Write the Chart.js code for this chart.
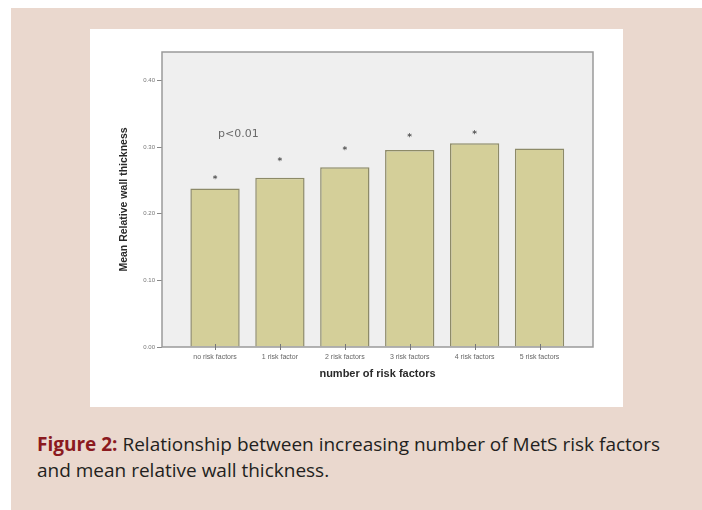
<!DOCTYPE html>
<html><head><meta charset="utf-8">
<script src="https://cdn.jsdelivr.net/npm/chart.js@4/dist/chart.umd.min.js"></script>
<style>
html,body{margin:0;padding:0;background:#fff;width:702px;height:510px;overflow:hidden;}
#pink{position:absolute;left:11px;top:8px;width:691px;height:502px;background:#ead8ce;}
#card{position:absolute;left:90px;top:29px;width:533px;height:378px;background:#fff;}
#cap{position:absolute;left:37px;top:431px;width:665px;font-family:"Open Sans",sans-serif;font-size:19px;line-height:26px;color:#231f20;white-space:nowrap;letter-spacing:0px;}
#cap b{color:#8b1a1f;}
</style></head>
<body>
<div id="pink"></div>
<div id="card"><canvas id="c" width="533" height="378"></canvas></div>
<div id="cap"><b>Figure 2:</b> Relationship between increasing number of MetS risk factors<br>and mean relative wall thickness.</div>
<script>
const categories = ["no risk factors","1 risk factor","2 risk factors","3 risk factors","4 risk factors","5 risk factors"];
const meanRWT = [0.238, 0.254, 0.270, 0.296, 0.306, 0.298];
const asteriskValues = [0.254, 0.281, 0.298, 0.317, 0.322, null];
const yTicks = [0.00, 0.10, 0.20, 0.30, 0.40];
const annotationText = "p<0.01";
const annotationPos = {x: 0.36, y: 0.320};

const deco = {
  id:'deco',
  beforeDatasetsDraw(chart){
    const {ctx, chartArea:a} = chart;
    ctx.save();
    ctx.fillStyle = '#efefef';
    ctx.fillRect(a.left, a.top, a.right-a.left, a.bottom-a.top);
    ctx.restore();
  },
  afterDatasetsDraw(chart){
    const {ctx, chartArea:a, scales:{x,y}} = chart;
    ctx.save();
    ctx.strokeStyle = '#9a9a9a';
    ctx.lineWidth = 1.5;
    ctx.strokeRect(a.left, a.top, a.right-a.left, a.bottom-a.top);
    ctx.strokeStyle = '#777';
    ctx.lineWidth = 1;
    categories.forEach((c,i)=>{
      const px = Math.round(x.getPixelForValue(i))+0.5;
      ctx.beginPath(); ctx.moveTo(px, a.bottom-3); ctx.lineTo(px, a.bottom+3); ctx.stroke();
    });
    ctx.fillStyle = '#555';
    ctx.font = 'bold 9px "DejaVu Sans", sans-serif';
    ctx.textAlign = 'center';
    ctx.textBaseline = 'middle';
    asteriskValues.forEach((v,i)=>{
      if(v==null) return;
      ctx.fillText('*', x.getPixelForValue(i), y.getPixelForValue(v)+2);
    });
    ctx.fillStyle = '#6a6a6a';
    ctx.font = '11px "DejaVu Sans", sans-serif';
    ctx.fillText(annotationText, x.getPixelForValue(annotationPos.x), y.getPixelForValue(annotationPos.y));
    ctx.restore();
  }
};

new Chart(document.getElementById('c'), {
  type:'bar',
  data:{
    datasets:[{
      data: meanRWT.map((v,i)=>({x:i, y:v})),
      backgroundColor:'#d4cf99',
      borderColor:'#8d8a68',
      borderWidth:1.5,
      barPercentage:0.76,
      categoryPercentage:1
    }]
  },
  options:{
    responsive:false,
    animation:false,
    layout:{padding:{left:28,top:23,right:30,bottom:26}},
    plugins:{legend:{display:false},tooltip:{enabled:false}},
    scales:{
      x:{
        type:'linear', min:-0.817, max:5.824, offset:false,
        afterBuildTicks(s){ s.ticks = categories.map((c,i)=>({value:i})); },
        afterFit(s){ s.height = 34; },
        ticks:{ autoSkip:false, maxRotation:0, padding:-2, color:'#666',
          font:{size:7, family:'"Liberation Sans", sans-serif'},
          callback:(v)=>categories[v] },
        grid:{ display:false },
        border:{ display:false },
        title:{ display:true, text:'number of risk factors', color:'#2a2a2a',
          font:{size:11, weight:'bold', family:'"Liberation Sans", sans-serif'}, padding:{top:9,bottom:0} }
      },
      y:{
        min:0, max:0.443,
        afterBuildTicks(s){ s.ticks = yTicks.map(v=>({value:v})); },
        afterFit(s){ s.width = 44; },
        ticks:{ color:'#777', padding:2, font:{size:6, family:'"Liberation Sans", sans-serif'},
          callback:(v)=>v.toFixed(2) },
        grid:{ drawOnChartArea:false, drawTicks:true, tickLength:5, color:'#888', lineWidth:1 },
        border:{ display:false },
        title:{ display:true, text:'Mean Relative wall thickness', color:'#2a2a2a',
          font:{size:10.5, weight:'bold', family:'"Liberation Sans", sans-serif'}, padding:{top:0,bottom:4} }
      }
    }
  },
  plugins:[deco]
});
</script>
</body></html>
